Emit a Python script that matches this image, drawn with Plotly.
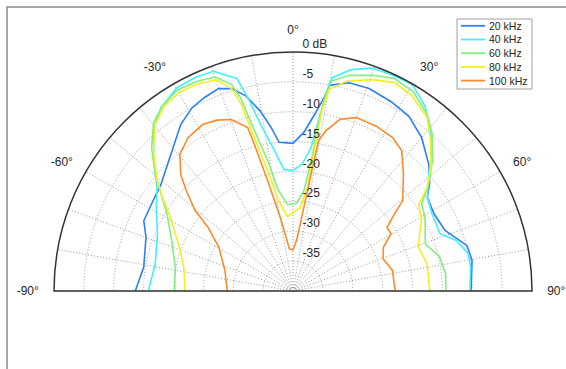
import plotly.graph_objects as go

series_names = ["20 kHz", "40 kHz", "60 kHz", "80 kHz", "100 kHz"]
series_colors = ["#2a7fff", "#40f0ff", "#80f080", "#f4f020", "#ff8a2a"]

theta_20 = [-90, -80.9, -69.9, -64.8, -58.4, -51.1, -42.7, -34.0, -28.9, -24.7, -20.2, -16.9, -13.6, -10.3, -7.6, -5.3, 0,
            3.9, 7.0, 9.1, 10.2, 15.1, 20.6, 27.3, 33.5, 40.0, 46.9, 51.6, 55.1, 61.4, 68.3, 75.4, 80.3, 90]
db_20 = [-13.6, -14.7, -13.8, -12.4, -12.2, -11.6, -9.6, -6.4, -5.0, -4.4, -3.9, -4.6, -6.4, -9.4, -12.4, -15.0, -15.3,
         -13.4, -10.2, -7.3, -5.0, -3.9, -3.8, -4.3, -4.9, -6.5, -8.9, -10.8, -12.6, -13.1, -12.6, -9.9, -9.6, -10.2]

theta_40 = [-90, -78.8, -67.2, -58.6, -52.7, -47.0, -40.5, -35.8, -29.7, -24.6, -19.9, -14.8, -12.9, -11.0, -7.9, -4.3, 0,
            4.1, 7.2, 8.5, 9.6, 10.4, 14.7, 19.6, 24.9, 30.1, 35.5, 40.1, 44.7, 49.3, 55.1, 61.1, 68.7, 72.8, 78.0, 82.3, 90]
db_40 = [-15.8, -16.5, -15.4, -13.2, -11.4, -8.1, -4.1, -2.2, -0.8, -0.7, -0.9, -3.2, -7.4, -11.6, -15.8, -19.6, -19.8,
         -18.7, -15.8, -11.2, -7.2, -3.7, -1.7, -0.4, -0.2, -0.1, -2.0, -4.3, -7.0, -10.0, -12.6, -13.4, -13.6, -11.4, -10.0, -10.0, -10.4]

theta_60 = [-90, -78.5, -67.4, -58.6, -53.7, -49.7, -44.6, -39.6, -35.2, -30.0, -24.6, -20.0, -16.6, -15.2, -13.7, -11.0, -8.3, -3.6,
            2.3, 6.2, 8.0, 8.6, 9.2, 10.0, 14.6, 20.3, 25.5, 30.9, 37.2, 41.6, 47.0, 51.8, 55.9, 60.9, 70.4, 76.9, 83.6, 90]
db_60 = [-20.2, -19.9, -18.0, -15.3, -12.6, -9.8, -6.3, -3.4, -2.1, -1.2, -1.4, -1.9, -3.9, -6.5, -11.9, -17.8, -23.0, -25.5,
         -25.3, -23.1, -18.0, -11.8, -7.8, -4.4, -2.7, -1.5, -0.6, -1.0, -2.9, -4.9, -8.1, -11.1, -14.0, -14.7, -16.5, -14.8, -14.3, -14.4]

theta_80 = [-90, -77.7, -69.0, -59.9, -54.3, -50.9, -44.9, -39.6, -34.8, -29.9, -24.9, -19.9, -16.9, -15.6, -14.3, -11.9, -9.1, -4.2,
            4.9, 8.0, 8.6, 9.1, 10.2, 14.5, 20.6, 26.0, 31.5, 37.7, 42.5, 48.1, 52.3, 55.4, 61.3, 70.7, 78.5, 90]
db_80 = [-21.9, -21.3, -19.6, -16.5, -13.1, -10.7, -6.9, -3.8, -2.3, -1.7, -1.8, -2.4, -4.6, -7.3, -12.9, -19.4, -24.7, -27.5,
         -26.0, -22.5, -15.7, -9.5, -5.7, -3.7, -2.2, -1.2, -1.8, -3.3, -5.9, -9.0, -11.6, -14.4, -15.5, -17.8, -17.1, -17.1]

theta_100 = [-90, -73.2, -59.5, -53.1, -50.6, -46.8, -43.9, -39.6, -34.4, -28.5, -24.0, -19.8, -15.5, -14.9, -12.9, -9.8, -4.9, 0,
             4.1, 7.4, 8.8, 9.6, 11.5, 15.3, 20.1, 26.8, 33.0, 37.8, 43.4, 50.5, 52.8, 55.9, 59.7, 64.2, 70.3, 78.3, 90]
db_100 = [-29.0, -28.1, -25.6, -22.2, -18.8, -15.5, -12.9, -10.3, -8.9, -8.3, -8.7, -9.5, -11.6, -14.0, -21.1, -27.5, -32.9, -33.1,
          -31.5, -25.9, -20.2, -14.5, -12.7, -10.2, -9.1, -9.1, -9.4, -10.3, -13.1, -16.2, -18.7, -21.0, -21.0, -23.2, -24.0, -23.0, -22.9]

all_theta = [theta_20, theta_40, theta_60, theta_80, theta_100]
all_db = [db_20, db_40, db_60, db_80, db_100]

radial_ticks = [0, -5, -10, -15, -20, -25, -30, -35]
radial_text = ["0 dB", "-5", "-10", "-15", "-20", "-25", "-30", "-35"]
angle_ticks = list(range(-90, 91, 10))
angle_text = [f"{a}°" if a % 30 == 0 else "" for a in angle_ticks]

FONT = "Arial, Liberation Sans, sans-serif"
W, H = 566, 369

fig = go.Figure()
for name, color, th, r in zip(series_names, series_colors, all_theta, all_db):
    fig.add_trace(go.Scatterpolar(theta=th, r=r, mode="lines", name=name, showlegend=False,
                                  line=dict(color=color, width=1.6)))

# legend box drawn with shapes + text (compact MATLAB-style legend)
shapes = [dict(type="rect", xref="paper", yref="paper",
               x0=7 / W, x1=1.05, y0=-0.05, y1=1 - 7 / H,
               line=dict(color="#8c8c8c", width=1.5), fillcolor="rgba(0,0,0,0)"),
          dict(type="rect", xref="paper", yref="paper",
               x0=457 / W, x1=532 / W, y0=1 - 89 / H, y1=1 - 19 / H,
               line=dict(color="#a0a0a0", width=1), fillcolor="white")]
annotations = []
for i, (name, color) in enumerate(zip(series_names, series_colors)):
    yc = 1 - (25.8 + 13.7 * i) / H
    shapes.append(dict(type="line", xref="paper", yref="paper",
                       x0=461 / W, x1=485 / W, y0=yc, y1=yc,
                       line=dict(color=color, width=1.8)))
    annotations.append(dict(xref="paper", yref="paper", x=487 / W, y=yc,
                            xanchor="left", yanchor="middle", showarrow=False,
                            text=name, font=dict(size=10.5, family=FONT, color="#262626")))

# radial labels sit just right of and above the 0° spoke
pad = "\u00a0\u00a0\u2009"
radial_labels = [pad + t + "<br>\u00a0" for t in radial_text]

GRID = "#9a9a9a"
fig.update_layout(
    width=W, height=H,
    margin=dict(l=0, r=0, t=0, b=0),
    paper_bgcolor="white",
    font=dict(family=FONT, size=12, color="#262626"),
    showlegend=False,
    polar=dict(
        domain=dict(x=[54 / W, 532 / W], y=[1 - 291 / H, 1 - 52 / H]),
        sector=[0, 180],
        bgcolor="white",
        angularaxis=dict(
            direction="clockwise", rotation=90,
            tickmode="array", tickvals=angle_ticks, ticktext=angle_text,
            showline=True, linecolor="#333333", linewidth=1.5,
            gridcolor=GRID, griddash="1px,2px", gridwidth=1,
            ticks="outside", ticklen=12, tickcolor="rgba(0,0,0,0)",
            tickfont=dict(size=12, color="#262626"),
        ),
        radialaxis=dict(
            range=[-40, 0], angle=90, side="clockwise", tickangle=90,
            tickmode="array", tickvals=radial_ticks, ticktext=radial_labels,
            showline=False, ticks="",
            gridcolor=GRID, griddash="1px,2px", gridwidth=1,
            tickfont=dict(size=12, color="#262626"),
        ),
    ),
    shapes=shapes,
    annotations=annotations,
)

fig.write_html("out.html", config={"displayModeBar": False},
               post_script="document.body.style.margin='0';")
